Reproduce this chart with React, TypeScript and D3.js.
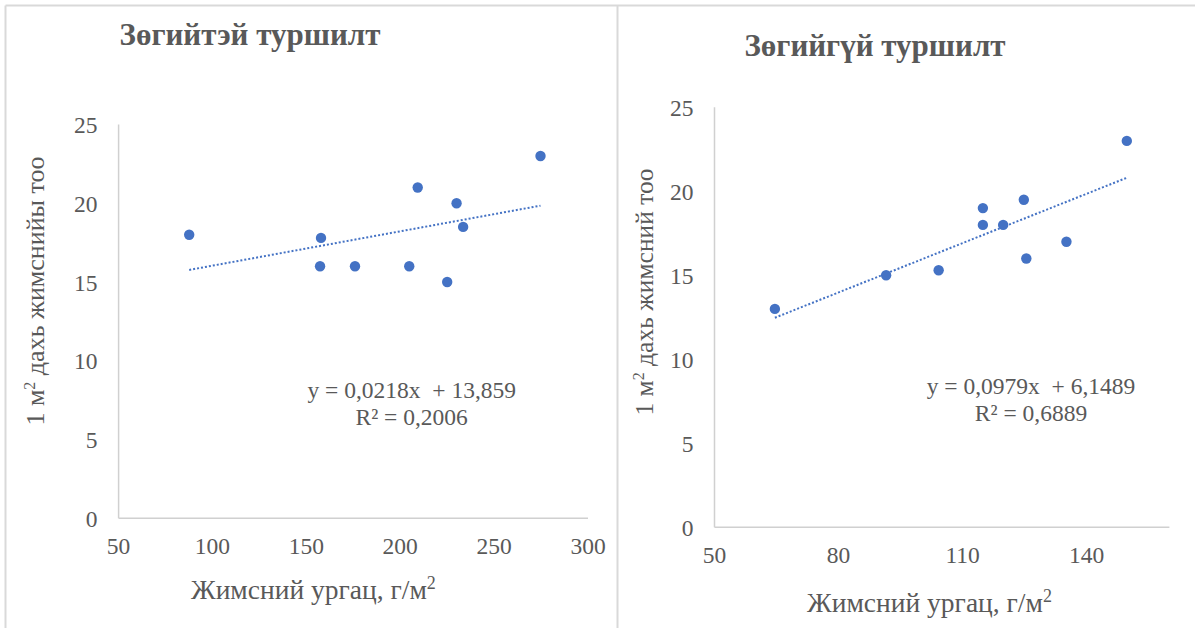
import React from "react";
import * as d3 from "d3";

// ---- Data ----
const leftX = [87.6, 157.8, 157.3, 175.9, 204.8, 209.3, 230, 233.5, 225, 274.7];
const leftY = [18, 17.8, 16, 16, 16, 21, 20, 18.5, 15, 23];
const leftTrend = { slope: 0.0218, intercept: 13.859 };
const leftEq = ["y = 0,0218x  + 13,859", "R² = 0,2006"];
const leftXTicks = [50, 100, 150, 200, 250, 300];

const rightX = [64.6, 91.5, 104.2, 114.9, 114.9, 119.8, 124.8, 125.4, 135.1, 149.7];
const rightY = [13, 15, 15.3, 19, 18, 18, 19.5, 16, 17, 23];
const rightTrend = { slope: 0.0979, intercept: 6.1489 };
const rightEq = ["y = 0,0979x  + 6,1489", "R² = 0,6889"];
const rightXTicks = [50, 80, 110, 140];

const yTicks = [0, 5, 10, 15, 20, 25];

const FONT = "'Liberation Serif', 'Times New Roman', 'DejaVu Serif', serif";
const TEXT = "#595959";
const AXIS = "#d0d0d0";
const DOT = "#4472C4";

type PanelProps = {
  title: string;
  titleX: number;
  titleY: number;
  xs: number[];
  ys: number[];
  trend: { slope: number; intercept: number };
  eq: string[];
  eqX: number;
  eqY: number;
  xDomain: [number, number];
  xRange: [number, number];
  yRange: [number, number];
  xTicks: number[];
  yLabel: string;
  yLabelX: number;
  yLabelY: number;
  yLabelSize: number;
  xLabelX: number;
  xLabelY: number;
};

function Panel(p: PanelProps) {
  const x = d3.scaleLinear().domain(p.xDomain).range(p.xRange);
  const y = d3.scaleLinear().domain([0, 25]).range(p.yRange);
  const x0 = d3.min(p.xs)!;
  const x1 = d3.max(p.xs)!;
  const line = d3.line<number>()
    .x((d) => x(d))
    .y((d) => y(p.trend.slope * d + p.trend.intercept));
  const [yl1, yl2] = p.yLabel.split("²");
  return (
    <g fontFamily={FONT} fill={TEXT}>
      <text x={p.titleX} y={p.titleY} textAnchor="middle" fontWeight="bold" fontSize={31}>
        {p.title}
      </text>
      {/* axes */}
      <line x1={x(p.xDomain[0])} x2={x(p.xDomain[1])} y1={y(0)} y2={y(0)} stroke={AXIS} strokeWidth={1.5} />
      <line x1={x(p.xDomain[0])} x2={x(p.xDomain[0])} y1={y(0)} y2={y(25)} stroke={AXIS} strokeWidth={1.5} />
      {yTicks.map((t) => (
        <text key={"y" + t} x={x(p.xDomain[0]) - 21} y={y(t) + 8.5} textAnchor="end" fontSize={23.5}>
          {t}
        </text>
      ))}
      {p.xTicks.map((t) => (
        <text key={"x" + t} x={x(t)} y={y(0) + 36} textAnchor="middle" fontSize={23.5}>
          {t}
        </text>
      ))}
      {/* trendline */}
      <path d={line([x0, x1])!} fill="none" stroke={DOT} strokeWidth={2} strokeDasharray="2 2" />
      {/* points */}
      {p.xs.map((v, i) => (
        <circle key={i} cx={x(v)} cy={y(p.ys[i])} r={5.2} fill={DOT} />
      ))}
      {/* equation */}
      <text x={p.eqX} y={p.eqY} textAnchor="middle" fontSize={23.5} style={{ whiteSpace: "pre" }}>
        {p.eq[0]}
      </text>
      <text x={p.eqX} y={p.eqY + 27} textAnchor="middle" fontSize={23.5}>
        {p.eq[1]}
      </text>
      {/* y label */}
      <text
        transform={`translate(${p.yLabelX},${p.yLabelY}) rotate(-90)`}
        textAnchor="middle"
        fontSize={p.yLabelSize}
      >
        {yl1}
        <tspan dy={-9} fontSize={16}>2</tspan>
        <tspan dy={9}>{yl2}</tspan>
      </text>
      {/* x label */}
      <text x={p.xLabelX} y={p.xLabelY} textAnchor="middle" fontSize={27.5}>
        Жимсний ургац, г/м
        <tspan dy={-10} fontSize={18}>2</tspan>
      </text>
    </g>
  );
}

export default function App() {
  return (
    <svg width={1195} height={628} style={{ position: "absolute", left: 0, top: 0, background: "#fff" }}>
      <rect x={0} y={0} width={1195} height={628} fill="#fff" />
      {/* panel borders */}
      <line x1={5.5} x2={1195} y1={5.5} y2={5.5} stroke="#d9d9d9" strokeWidth={2} />
      <line x1={5.5} x2={5.5} y1={5.5} y2={628} stroke="#d9d9d9" strokeWidth={2} />
      <line x1={617.5} x2={617.5} y1={5.5} y2={628} stroke="#d9d9d9" strokeWidth={2} />
      <Panel
        title="Зөгийтэй туршилт"
        titleX={250}
        titleY={45}
        xs={leftX}
        ys={leftY}
        trend={leftTrend}
        eq={leftEq}
        eqX={411.7}
        eqY={398}
        xDomain={[50, 300]}
        xRange={[118.6, 588]}
        yRange={[518.3, 124.5]}
        xTicks={leftXTicks}
        yLabel="1 м² дахь жимснийы тоо"
        yLabelX={44}
        yLabelY={291}
        yLabelSize={26}
        xLabelX={313.4}
        xLabelY={599}
      />
      <Panel
        title="Зөгийгүй туршилт"
        titleX={875}
        titleY={56}
        xs={rightX}
        ys={rightY}
        trend={rightTrend}
        eq={rightEq}
        eqX={1031}
        eqY={394}
        xDomain={[50, 160]}
        xRange={[714.5, 1169.4]}
        yRange={[527.3, 107.3]}
        xTicks={rightXTicks}
        yLabel="1 м² дахь жимсний тоо"
        yLabelX={653}
        yLabelY={292}
        yLabelSize={25.5}
        xLabelX={929.5}
        xLabelY={612}
      />
    </svg>
  );
}
